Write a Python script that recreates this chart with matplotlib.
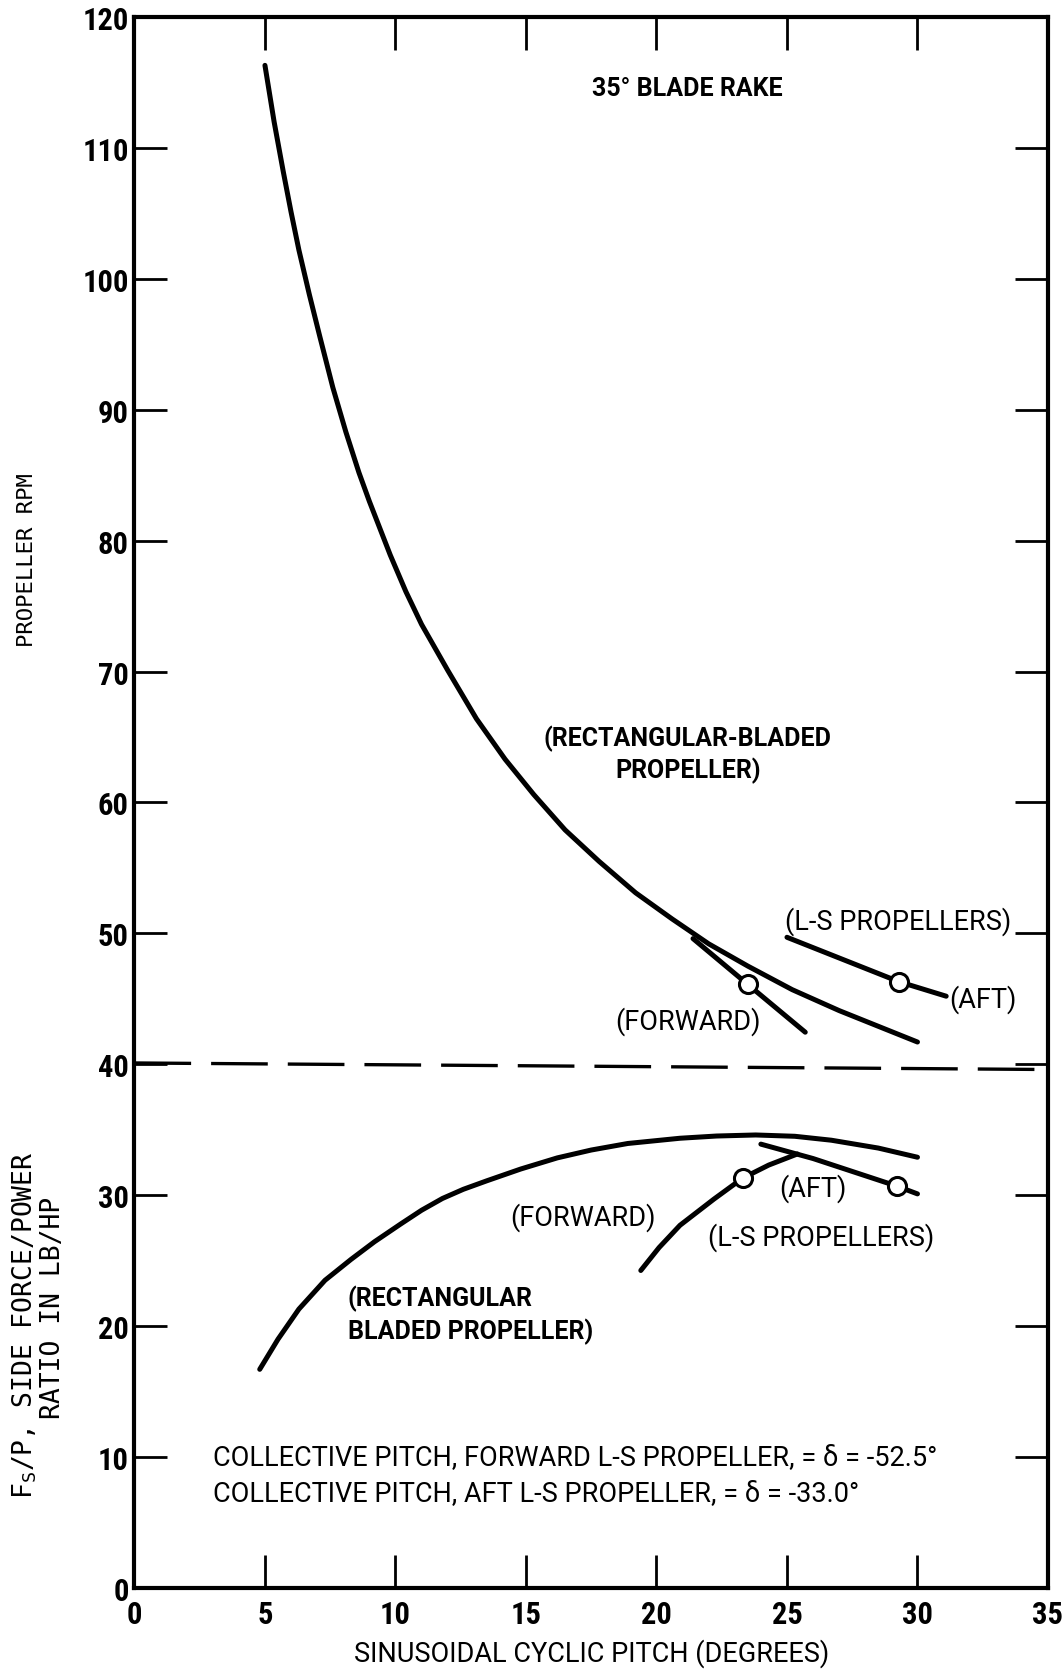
import matplotlib
matplotlib.use("Agg")
import matplotlib.pyplot as plt
from matplotlib import font_manager

# ---- data -------------------------------------------------------------
# Upper family: propeller RPM vs sinusoidal cyclic pitch
rect_rpm_x = [5.0, 5.35, 5.7, 6.0, 6.3, 6.7, 7.1, 7.6, 8.1, 8.6, 9.0, 9.8, 10.4, 11.0,
              12.0, 13.1, 14.2, 15.3, 16.5, 17.8, 19.2, 20.6, 22.0, 23.5, 25.2, 27.0,
              28.5, 30.0]
rect_rpm_y = [116.3, 112.0, 108.2, 105.1, 102.2, 98.8, 95.6, 91.7, 88.3, 85.2, 83.0,
              78.9, 76.1, 73.6, 70.1, 66.4, 63.3, 60.6, 57.9, 55.5, 53.1, 51.1, 49.2,
              47.5, 45.7, 44.1, 42.9, 41.7]

fwd_rpm_x = [21.4, 23.5, 25.7]
fwd_rpm_y = [49.6, 46.1, 42.45]
aft_rpm_x = [25.0, 29.3, 31.1]
aft_rpm_y = [49.7, 46.3, 45.2]
rpm_marker_idx = 1

# Divider between the two families
divider_x = [0.0, 35.0]
divider_y = [40.1, 39.6]

# Lower family: side force / power ratio (lb/hp)
rect_fp_x = [4.8, 5.5, 6.3, 7.3, 8.3, 9.2, 10.2, 11.0, 11.8, 12.6, 13.5, 14.8, 16.2,
             17.5, 18.9, 20.9, 22.3, 23.8, 25.3, 26.7, 28.5, 30.0]
rect_fp_y = [16.7, 19.0, 21.3, 23.5, 25.1, 26.45, 27.8, 28.85, 29.75, 30.45, 31.1, 32.0,
             32.85, 33.45, 33.95, 34.35, 34.52, 34.6, 34.5, 34.2, 33.6, 32.9]

fwd_fp_x = [19.4, 20.1, 20.9, 22.2, 23.3, 24.3, 25.4]
fwd_fp_y = [24.25, 26.0, 27.7, 29.7, 31.3, 32.3, 33.15]
fwd_fp_marker_idx = 4
aft_fp_x = [24.0, 26.0, 29.2, 30.0]
aft_fp_y = [33.9, 32.8, 30.7, 30.1]
aft_fp_marker_idx = 2

x_ticks = [0, 5, 10, 15, 20, 25, 30, 35]
y_ticks = [0, 10, 20, 30, 40, 50, 60, 70, 80, 90, 100, 110, 120]


# ---- fonts ------------------------------------------------------------
def pick_family(prefs, fallback):
    names = {f.name for f in font_manager.fontManager.ttflist}
    for fam in prefs:
        if fam in names:
            return fam
    return fallback


narrow = pick_family(["Roboto Condensed", "Liberation Sans Narrow"], "DejaVu Sans")
sans = pick_family(["Roboto"], "DejaVu Sans")
mono = "DejaVu Sans Mono"

ANN = dict(family=sans, fontsize=19.5, color="black")
ANN_B = dict(family=sans, fontsize=18, fontweight="bold", color="black")

# ---- figure -----------------------------------------------------------
fig = plt.figure(figsize=(10.62, 16.74), dpi=100)
ax = fig.add_axes([0.1266, 0.0508, 0.8602, 0.9385])
ax.set_xlim(0, 35)
ax.set_ylim(0, 120)

for s in ax.spines.values():
    s.set_linewidth(3.0)

ax.set_xticks(x_ticks)
ax.set_yticks(y_ticks)
ax.set_xticklabels([str(v) for v in x_ticks])
ax.set_yticklabels([str(v) for v in y_ticks])
ax.tick_params(axis="both", which="major", direction="in", length=24, width=2.0,
               top=True, right=True, labeltop=False, labelright=False)
ax.tick_params(axis="x", pad=8)
ax.tick_params(axis="y", pad=4)
for lab in ax.get_xticklabels() + ax.get_yticklabels():
    lab.set_fontfamily(narrow)
    lab.set_fontweight("bold")
    lab.set_fontsize(22)

LW = 3.6
line_kw = dict(color="black", lw=LW, solid_capstyle="round", solid_joinstyle="round")
mk_kw = dict(ls="none", marker="o", ms=13, mfc="white", mec="black", mew=2.2, zorder=5)

# RPM curves
ax.plot(rect_rpm_x, rect_rpm_y, **line_kw)
ax.plot(fwd_rpm_x, fwd_rpm_y, **line_kw)
ax.plot(aft_rpm_x, aft_rpm_y, **line_kw)
ax.plot([fwd_rpm_x[rpm_marker_idx]], [fwd_rpm_y[rpm_marker_idx]], **mk_kw)
ax.plot([aft_rpm_x[rpm_marker_idx]], [aft_rpm_y[rpm_marker_idx]], **mk_kw)

# divider
ax.plot(divider_x, divider_y, color="black", lw=2.4, dashes=(17, 6), clip_on=False)

# side-force / power curves
ax.plot(rect_fp_x, rect_fp_y, **line_kw)
ax.plot(fwd_fp_x, fwd_fp_y, **line_kw)
ax.plot(aft_fp_x, aft_fp_y, **line_kw)
ax.plot([fwd_fp_x[fwd_fp_marker_idx]], [fwd_fp_y[fwd_fp_marker_idx]], **mk_kw)
ax.plot([aft_fp_x[aft_fp_marker_idx]], [aft_fp_y[aft_fp_marker_idx]], **mk_kw)

# ---- annotations ------------------------------------------------------
ax.text(21.2, 114.6, "35° BLADE RAKE", ha="center", va="center", **ANN_B)
ax.text(21.2, 63.7, "(RECTANGULAR-BLADED\nPROPELLER)", ha="center", va="center",
        linespacing=1.3, **ANN_B)
ax.text(29.25, 51.0, "(L-S PROPELLERS)", ha="center", va="center", **ANN)
ax.text(32.5, 45.0, "(AFT)", ha="center", va="center", **ANN)
ax.text(21.2, 43.3, "(FORWARD)", ha="center", va="center", **ANN)

ax.text(17.2, 28.4, "(FORWARD)", ha="center", va="center", **ANN)
ax.text(26.0, 30.6, "(AFT)", ha="center", va="center", **ANN)
ax.text(26.3, 26.8, "(L-S PROPELLERS)", ha="center", va="center", **ANN)
ax.text(8.18, 20.9, "(RECTANGULAR\nBLADED PROPELLER)", ha="left", va="center",
        linespacing=1.3, **ANN_B)

ax.text(3.0, 10.0, "COLLECTIVE PITCH, FORWARD L-S PROPELLER, = δ = -52.5°",
        ha="left", va="center", **ANN)
ax.text(3.0, 7.25, "COLLECTIVE PITCH, AFT L-S PROPELLER, = δ = -33.0°",
        ha="left", va="center", **ANN)

# ---- axis titles ------------------------------------------------------
fig.text(0.5567, 1 - 1654 / 1674, "SINUSOIDAL CYCLIC PITCH (DEGREES)",
         ha="center", va="center", family=sans, fontsize=19.5)
fig.text(27 / 1062, 1 - 560 / 1674, "PROPELLER RPM", rotation=90,
         ha="center", va="center", family=mono, fontsize=16)
fig.text(25 / 1062, 1 - 1325 / 1674, r"F$_\mathregular{S}$/P, SIDE FORCE/POWER", rotation=90,
         ha="center", va="center", family=mono, fontsize=19)
fig.text(53 / 1062, 1 - 1308 / 1674, "RATIO IN LB/HP", rotation=90,
         ha="center", va="center", family=mono, fontsize=19)

fig.savefig("out.png", dpi=100, facecolor="white")
